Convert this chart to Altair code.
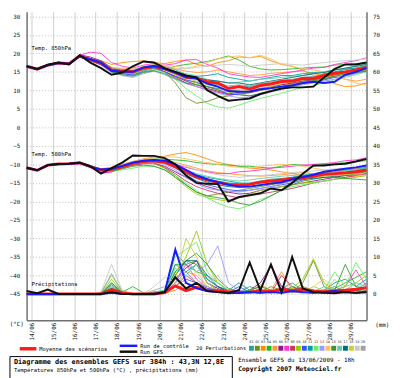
import altair as alt
import pandas as pd

# time axis: hours after 13/06/2009 18h, every 12 h up to 384 h
HOURS = list(range(0, 385, 12))

MEMBERS = [f"{k:02d}" for k in range(1, 21)]
MEMBER_COLORS = ["#2aa198", "#6b8e23", "#ff8c00", "#22bb22", "#ff9933",
                 "#8b1a89", "#ff33cc", "#cc3366", "#99cc00", "#3355ff",
                 "#00a0a0", "#66ee66", "#9999ff", "#ffc060", "#339933",
                 "#66ccaa", "#007070", "#cccc33", "#c8c8c8", "#a0a0a0"]

# ---------------- 850 hPa temperature (°C) ----------------
M850 = [16.5,15.7,16.8,17.4,17.2,19.3,18.3,17.3,15.5,15.2,15.0,16.0,16.5,15.8,14.8,13.5,13.3,12.3,12.0,10.5,11.0,10.4,11.3,11.7,12.4,12.5,13.2,13.2,14.0,14.6,15.0,15.5,16.2]
C850 = [16.5,15.7,16.8,17.4,17.2,19.2,18.4,17.4,15.3,15.0,15.0,16.2,16.6,15.8,14.8,13.6,13.2,11.8,11.0,9.8,9.6,9.7,10.3,10.6,11.0,11.3,12.0,12.3,12.0,12.3,14.2,15.0,16.0]
G850 = [16.5,15.8,16.9,17.5,17.0,19.5,17.5,16.0,14.2,14.8,16.5,17.8,17.5,16.0,15.0,14.0,13.5,10.0,8.5,7.2,7.5,7.8,9.0,9.8,10.5,10.8,10.8,11.0,13.5,15.8,17.0,17.0,17.5]
P850 = [
    [16.5,15.8,16.9,17.3,17.1,19.2,18.6,17.8,16.2,15.6,15.4,16.3,16.8,16.5,15.6,14.2,13.0,12.0,11.5,10.8,11.2,11.0,11.8,12.0,12.5,12.8,13.5,13.6,14.5,15.0,15.6,16.0,16.8],
    [16.5,15.7,16.7,17.5,17.3,19.4,18.0,17.0,15.0,14.5,14.8,15.7,16.2,15.0,12.0,8.0,6.5,7.0,8.0,8.5,9.2,9.5,10.2,10.8,11.5,12.0,12.6,13.0,13.2,14.0,14.8,15.2,15.8],
    [16.5,15.6,16.8,17.6,17.4,19.0,18.5,18.0,17.0,17.5,17.8,18.0,17.5,17.2,17.8,18.2,17.0,16.5,17.5,18.0,19.0,18.8,19.2,18.0,17.0,16.5,15.5,14.0,13.0,11.8,11.0,11.2,12.0],
    [16.5,15.7,16.8,17.3,17.0,19.4,18.2,17.2,15.2,14.6,14.0,15.0,15.5,15.8,16.5,17.0,17.3,17.8,18.5,19.3,18.2,16.5,15.8,15.5,15.6,15.8,16.0,16.2,16.3,16.8,17.0,17.2,17.5],
    [16.5,15.8,16.8,17.4,17.2,19.1,18.4,17.5,16.0,15.8,15.5,16.4,17.0,16.5,15.8,15.2,14.8,15.0,15.5,15.0,14.5,14.0,14.2,14.6,14.8,15.0,15.2,14.5,14.0,13.5,13.0,12.5,13.0],
    [16.5,15.7,16.8,17.4,17.3,19.6,19.0,18.0,16.0,15.0,14.6,15.5,16.0,15.0,13.8,12.5,11.5,10.5,9.8,9.0,9.5,9.8,10.5,11.0,11.5,12.0,12.5,12.8,13.5,14.2,14.8,15.4,16.0],
    [16.5,15.8,16.9,17.5,17.3,19.5,20.3,20.0,17.5,16.5,16.0,16.8,17.2,16.8,17.2,18.2,18.3,17.0,16.0,14.5,14.0,13.6,13.5,14.0,14.5,15.0,15.5,16.0,16.2,17.0,17.5,18.0,18.8],
    [16.5,15.6,16.7,17.3,17.1,19.0,18.0,17.0,15.2,14.8,14.5,15.5,16.0,15.0,13.5,12.0,11.0,10.2,9.5,8.8,9.0,9.3,10.0,10.5,11.0,11.8,12.3,12.5,13.2,13.8,14.5,15.0,15.5],
    [16.5,15.7,16.8,17.5,17.2,19.2,18.2,17.3,15.4,15.0,14.8,15.8,16.3,15.5,14.2,12.8,12.0,11.0,10.0,9.5,9.0,8.5,9.2,10.0,11.0,11.5,12.2,12.5,13.3,14.0,14.5,15.0,15.5],
    [16.5,15.7,16.8,17.4,17.2,19.3,18.2,17.0,15.0,14.5,14.2,15.2,16.0,15.0,13.8,12.8,12.2,11.0,10.2,9.0,8.8,8.5,9.0,9.8,10.5,11.2,11.8,12.2,12.8,13.5,14.0,14.6,15.2],
    [16.5,15.8,16.8,17.4,17.2,19.3,18.5,17.6,15.8,15.5,15.2,16.2,16.8,16.0,15.0,14.0,13.8,14.0,14.5,13.5,13.0,12.5,13.0,13.5,14.0,14.0,14.5,14.8,15.0,15.5,15.8,16.0,16.5],
    [16.5,15.7,16.8,17.4,17.1,19.2,18.3,17.2,15.3,14.8,14.5,15.4,15.8,14.8,13.0,10.5,8.5,6.5,5.5,5.2,6.0,7.0,7.8,8.5,9.2,10.0,10.8,11.3,12.0,12.8,13.5,14.2,15.0],
    [16.5,15.7,16.8,17.4,17.2,19.0,18.0,16.8,14.8,14.0,13.5,14.5,15.2,14.2,13.0,11.8,11.0,10.0,9.2,8.5,8.0,8.2,8.8,9.5,10.2,11.0,11.5,12.0,12.5,13.0,13.8,14.5,15.2],
    [16.5,15.7,16.8,17.4,17.2,19.3,18.3,17.6,16.2,16.0,15.8,16.5,17.0,16.8,16.5,16.0,16.5,17.5,18.5,19.0,19.3,18.8,19.5,18.5,17.0,16.5,15.8,15.5,15.0,14.2,13.0,12.0,11.5],
    [16.5,15.7,16.8,17.4,17.2,19.3,18.1,17.0,15.0,14.2,13.8,14.8,15.3,14.5,13.2,12.0,11.5,11.0,10.5,10.0,9.8,9.5,10.0,10.5,11.0,11.5,12.0,12.6,13.0,13.8,14.4,14.8,15.2],
    [16.5,15.7,16.8,17.4,17.2,19.3,18.4,17.6,15.8,15.4,15.3,16.2,16.7,16.0,15.2,14.5,14.0,13.0,12.5,12.0,12.2,12.5,13.0,13.2,13.5,13.8,14.0,14.5,15.0,15.5,16.0,16.5,17.2],
    [16.5,15.7,16.8,17.4,17.2,19.4,18.5,17.8,16.0,15.3,14.8,15.8,16.3,15.8,15.0,14.0,13.5,12.8,12.5,12.0,12.0,11.5,12.0,12.5,13.0,13.5,14.0,14.5,14.8,15.5,16.0,16.5,17.0],
    [16.5,15.7,16.8,17.4,17.2,19.3,18.2,17.2,15.4,15.0,14.8,15.8,16.4,15.6,14.5,13.2,12.5,11.5,11.0,10.0,10.2,10.0,10.5,11.0,11.8,12.2,12.8,13.0,13.8,14.4,15.0,15.4,16.0],
    [16.5,15.7,16.8,17.4,17.2,19.2,18.4,17.5,15.9,15.6,15.5,16.6,17.0,16.6,16.0,15.8,16.2,16.5,16.8,17.0,16.8,16.5,16.8,17.0,17.2,17.0,16.8,17.2,17.5,17.8,18.0,18.2,18.5],
    [16.5,15.7,16.8,17.4,17.2,19.3,18.3,17.4,15.6,15.1,14.9,15.9,16.4,15.6,14.6,13.6,13.2,12.4,12.0,11.2,11.5,11.2,11.8,12.3,12.8,13.0,13.5,13.8,14.2,14.8,15.2,15.8,16.3],
]

# ---------------- 500 hPa temperature (°C) ----------------
M500 = [-10.9,-11.6,-10.2,-9.9,-9.8,-9.6,-10.6,-11.5,-11.3,-10.6,-9.8,-9.2,-9.0,-9.4,-10.6,-12.0,-13.4,-14.2,-14.9,-15.4,-15.6,-15.4,-14.8,-14.5,-14.2,-13.9,-13.6,-13.2,-12.6,-12.5,-12.3,-12.0,-11.5]
C500 = [-10.9,-11.6,-10.2,-9.9,-9.8,-9.6,-10.6,-11.4,-11.2,-10.4,-9.5,-9.0,-8.8,-9.0,-10.0,-11.5,-13.0,-14.0,-14.8,-15.5,-16.0,-16.0,-15.6,-15.2,-14.8,-14.0,-13.4,-12.8,-12.0,-11.6,-11.2,-10.8,-10.3]
G500 = [-10.9,-11.6,-10.2,-9.9,-9.8,-9.5,-10.5,-12.5,-11.0,-9.5,-7.6,-7.7,-7.7,-8.3,-10.0,-13.0,-15.0,-15.2,-15.3,-20.0,-18.8,-18.3,-17.8,-16.5,-17.0,-15.0,-12.5,-10.3,-10.3,-10.0,-9.8,-9.2,-8.5]
P500 = [
    [-10.9,-11.5,-10.1,-9.8,-9.8,-9.7,-10.8,-11.8,-11.6,-10.8,-10.0,-9.4,-9.2,-9.5,-10.5,-12.0,-13.2,-14.0,-14.5,-15.0,-15.2,-15.0,-14.5,-14.0,-13.8,-13.5,-13.0,-12.6,-12.0,-11.8,-11.5,-11.2,-10.8],
    [-10.9,-11.6,-10.2,-9.9,-9.7,-9.5,-10.4,-11.2,-11.0,-10.2,-9.4,-9.0,-9.5,-11.0,-13.0,-15.5,-17.5,-18.5,-18.0,-17.5,-17.0,-16.5,-16.0,-15.5,-15.0,-14.5,-14.0,-13.5,-13.0,-12.8,-12.5,-12.2,-12.0],
    [-10.9,-11.6,-10.3,-10.0,-9.9,-9.6,-10.5,-11.2,-10.8,-10.0,-9.2,-8.5,-8.0,-7.8,-7.2,-6.8,-7.5,-8.5,-9.5,-10.0,-10.5,-11.0,-11.2,-11.5,-12.0,-12.5,-13.0,-12.8,-12.5,-12.0,-11.5,-11.0,-10.5],
    [-10.9,-11.6,-10.2,-9.9,-9.8,-9.6,-10.6,-11.5,-11.2,-10.4,-9.5,-8.8,-8.5,-8.6,-8.8,-9.0,-9.5,-9.8,-10.0,-10.2,-10.5,-10.5,-10.8,-11.0,-10.5,-10.0,-10.2,-10.5,-10.0,-9.8,-9.5,-9.2,-9.0],
    [-10.9,-11.6,-10.2,-9.9,-9.8,-9.6,-10.6,-11.4,-11.1,-10.3,-9.6,-9.0,-8.8,-9.0,-9.5,-10.2,-11.0,-11.8,-12.2,-12.5,-12.8,-13.0,-13.2,-13.0,-12.8,-12.5,-12.2,-12.5,-12.8,-13.2,-13.5,-13.2,-13.0],
    [-10.9,-11.6,-10.2,-9.9,-9.8,-9.6,-10.7,-12.2,-12.0,-11.0,-10.2,-9.8,-9.8,-10.5,-12.0,-13.5,-15.0,-16.0,-16.8,-17.5,-18.0,-17.8,-17.0,-16.5,-16.0,-15.5,-15.0,-14.5,-14.0,-13.5,-13.0,-12.8,-12.5],
    [-10.9,-11.6,-10.2,-9.9,-9.8,-9.6,-10.8,-12.5,-12.0,-10.8,-10.0,-9.5,-9.3,-9.5,-10.0,-10.8,-11.5,-12.0,-12.5,-12.5,-12.0,-11.8,-11.5,-11.0,-10.8,-10.5,-10.2,-10.0,-9.8,-9.5,-9.0,-8.8,-8.2],
    [-10.9,-11.6,-10.2,-9.9,-9.8,-9.6,-10.6,-11.6,-11.5,-10.8,-10.2,-9.8,-9.8,-10.8,-12.5,-14.5,-16.0,-17.0,-17.8,-18.5,-19.0,-18.5,-18.0,-17.5,-17.0,-16.5,-15.8,-15.0,-14.5,-14.0,-13.5,-13.0,-12.5],
    [-10.9,-11.6,-10.2,-9.9,-9.8,-9.6,-10.6,-11.5,-11.3,-10.6,-10.0,-9.6,-9.8,-11.0,-13.5,-16.0,-18.0,-19.0,-19.5,-20.0,-19.0,-18.0,-17.0,-16.5,-16.0,-15.5,-15.0,-14.8,-14.5,-14.0,-13.8,-13.5,-13.0],
    [-10.9,-11.6,-10.2,-9.9,-9.8,-9.6,-10.6,-11.5,-11.3,-10.5,-9.8,-9.2,-9.0,-9.6,-11.0,-12.8,-14.5,-15.5,-16.2,-16.8,-17.2,-17.0,-16.5,-16.0,-15.5,-15.0,-14.2,-13.5,-13.0,-12.5,-12.2,-12.0,-11.5],
    [-10.9,-11.6,-10.2,-9.9,-9.8,-9.6,-10.6,-11.3,-11.0,-10.3,-9.5,-9.0,-8.8,-9.2,-10.0,-11.5,-12.8,-13.5,-14.0,-14.5,-15.0,-15.2,-15.0,-14.5,-14.0,-13.5,-13.0,-12.5,-12.2,-12.0,-11.8,-11.5,-11.0],
    [-10.9,-11.6,-10.2,-9.9,-9.8,-9.6,-10.6,-11.5,-11.8,-11.5,-11.0,-10.5,-10.5,-11.5,-13.0,-15.0,-17.0,-19.0,-20.5,-21.5,-22.0,-21.0,-19.5,-18.5,-17.0,-16.0,-15.5,-15.0,-14.5,-14.0,-13.0,-12.0,-11.0],
    [-10.9,-11.6,-10.2,-9.9,-9.8,-9.6,-10.6,-11.6,-11.4,-10.6,-10.0,-9.5,-9.4,-10.0,-11.5,-13.5,-15.2,-16.5,-17.0,-17.2,-17.5,-17.0,-16.5,-16.0,-15.2,-14.5,-14.0,-13.5,-13.0,-12.8,-12.5,-12.2,-12.0],
    [-10.9,-11.6,-10.2,-9.9,-9.8,-9.6,-10.6,-11.3,-10.8,-10.0,-9.2,-8.6,-8.3,-8.0,-8.0,-8.5,-9.0,-9.5,-10.0,-10.5,-10.8,-11.0,-10.5,-10.2,-10.0,-10.2,-10.5,-11.0,-11.5,-12.0,-12.5,-12.8,-13.0],
    [-10.9,-11.6,-10.2,-9.9,-9.8,-9.6,-10.6,-11.7,-11.8,-11.2,-10.5,-10.2,-10.5,-11.5,-13.5,-15.5,-17.5,-18.5,-19.0,-19.5,-20.5,-21.0,-20.0,-18.5,-17.0,-15.5,-14.5,-14.0,-13.5,-13.5,-13.8,-14.0,-14.2],
    [-10.9,-11.6,-10.2,-9.9,-9.8,-9.6,-10.6,-11.4,-11.1,-10.4,-9.7,-9.2,-9.0,-9.3,-10.2,-11.5,-12.5,-13.2,-13.8,-14.2,-14.5,-14.2,-13.8,-13.5,-13.2,-13.0,-12.8,-12.5,-12.2,-12.0,-11.8,-11.5,-11.2],
    [-10.9,-11.6,-10.2,-9.9,-9.8,-9.6,-10.6,-11.5,-11.2,-10.5,-9.8,-9.3,-9.2,-9.6,-10.8,-12.5,-13.8,-14.8,-15.5,-16.0,-16.2,-16.0,-15.5,-15.0,-14.5,-14.2,-14.0,-13.8,-13.5,-13.2,-13.0,-12.5,-12.0],
    [-10.9,-11.6,-10.2,-9.9,-9.8,-9.6,-10.6,-11.5,-11.3,-10.6,-9.9,-9.4,-9.2,-9.5,-10.5,-12.0,-13.5,-14.5,-15.0,-15.5,-15.8,-15.5,-15.0,-14.8,-14.5,-14.2,-13.8,-13.5,-13.2,-13.0,-12.8,-12.5,-12.2],
    [-10.9,-11.6,-10.2,-9.9,-9.8,-9.6,-10.6,-11.4,-11.0,-10.2,-9.4,-8.8,-8.6,-8.8,-9.5,-10.5,-11.5,-12.2,-12.8,-13.2,-13.5,-13.2,-13.0,-12.8,-12.5,-12.2,-12.0,-11.8,-11.5,-11.2,-11.0,-10.8,-10.5],
    [-10.9,-11.6,-10.2,-9.9,-9.8,-9.6,-10.6,-11.5,-11.2,-10.5,-9.8,-9.2,-9.0,-9.3,-10.4,-11.8,-13.2,-14.0,-14.8,-15.2,-15.4,-15.2,-14.8,-14.4,-14.0,-13.8,-13.4,-13.0,-12.6,-12.4,-12.2,-11.8,-11.4],
]

# ---------------- precipitation (mm) ----------------
MPR = [0,0,0,0,0,0,0,0,1.2,0.3,0,0,0,0.4,2.2,0.9,1.8,0.9,0.9,0.6,0.4,0.5,0.9,0.6,1.3,0.9,1.3,0.8,0.6,0.8,1.0,1.3,1.7]
CPR = [0,0,0,0,0,0,0,0,0.3,0,0,0,0,0.5,12.0,3.0,1.5,0.8,0.5,0.2,0.3,0.5,0.3,0.5,0.3,0.8,0.5,0.3,0.5,0.8,0.5,0.3,0.5]
GPR = [0.8,0.2,1.2,0,0,0,0,0,0.5,0,0,0,0,0.5,4.5,1.5,3.0,0.8,0.5,0.3,1.0,8.5,1.0,8.0,0.5,10.0,1.5,0.5,0.3,0.2,0.5,0.3,0.5]
PPR = [
    [0,0,0,0,0,0,0,0.2,2.0,0.3,0,0,0.5,1.0,11.0,8.0,9.0,4.0,2.0,1.0,0.5,2.0,1.0,0.5,1.5,3.0,1.0,0.5,1.0,2.0,0.5,1.0,3.0],
    [0,0,0,0,0,0,0,0,1.5,0.2,0,0,0,0.5,6.0,9.0,8.0,3.0,1.0,0.5,0.3,1.0,0.5,2.0,1.0,0.5,3.0,9.0,2.0,0.5,1.0,0.5,1.0],
    [0,0,0,0,0,0,0,0,0.5,0,0,0,0,0.2,1.0,3.0,2.0,1.0,0.5,0.2,0.3,0.5,2.5,1.0,0.5,1.5,1.0,0.5,0.3,1.0,0.5,0.3,0.5],
    [0,0,0,0,0,0,0,0,3.0,0.5,2.0,0.3,0,0.5,8.0,8.0,6.0,5.0,3.0,1.0,0.5,0.8,1.0,0.5,1.0,0.8,2.0,1.0,0.5,1.5,3.0,4.5,6.0],
    [0,0,0,0,0,0,0,0,1.0,0,0,0,0,0.3,3.0,6.0,5.0,2.0,1.0,0.5,1.0,0.3,0.5,1.0,6.0,1.0,0.5,0.3,0.5,0.2,0.5,1.0,0.5],
    [0,0,0,0,0,0,0,0,0.8,0,0,0,0,0.5,4.0,7.0,9.0,3.0,1.5,0.5,0.3,1.0,3.0,7.5,2.0,1.0,0.5,0.3,1.0,0.5,0.3,0.5,0.8],
    [0,0,0,0,0,0,0,0,1.5,0.2,0,0,0.3,0.5,3.0,8.0,4.0,1.5,1.0,0.5,0.3,0.5,1.0,8.0,2.0,0.5,0.5,1.0,0.5,1.0,2.0,6.5,2.0],
    [0,0,0,0,0,0,0,0,1.0,0,0,0,0,0.3,2.0,5.0,3.0,1.0,2.0,0.5,0.3,0.5,0.8,0.3,5.0,2.0,0.5,0.3,0.5,0.3,0.5,0.3,0.5],
    [0,0,0,0,0,0,0,0,4.0,0.5,0,0,0,0.5,5.0,10.0,17.0,8.0,3.0,1.0,0.5,0.5,1.0,0.5,1.0,1.5,4.0,9.5,3.0,1.0,2.0,3.0,5.0],
    [0,0,0,0,0,0,0,0,0.5,0,0,0,0,0.3,2.0,4.0,3.0,1.5,1.0,0.5,2.0,0.5,0.3,0.5,0.3,0.5,1.0,0.5,0.3,0.5,1.0,0.5,0.3],
    [0,0,0,0,0,0,0,0,3.0,0.3,0,0,0.5,0.8,8.0,6.0,8.0,4.0,2.0,1.0,3.0,1.0,0.5,1.0,0.5,2.0,1.0,0.5,1.0,3.0,4.0,2.0,4.0],
    [0,0,0,0,0,0,0,0.3,5.0,1.0,0,0,0.5,1.0,10.0,12.0,14.0,6.0,3.0,1.0,0.5,1.0,0.5,1.0,0.5,1.0,0.5,2.0,1.0,6.0,2.0,8.5,4.0],
    [0,0,0,0,0,0,0,0,1.0,0,0,0,0,0.5,3.0,9.0,6.0,8.0,13.0,3.0,1.0,0.5,0.3,0.5,1.0,0.5,0.3,0.5,1.0,0.3,0.5,0.3,0.5],
    [0,0,0,0,0,0,0,0,0.5,0,0,0,0,0.2,2.0,4.0,6.0,2.0,1.0,0.5,0.3,0.5,0.3,0.5,1.0,0.5,0.3,2.0,4.0,1.0,0.5,0.3,0.5],
    [0,0,0,0,0,0,0,0.2,2.5,0.3,0,0,0.3,0.5,6.0,9.0,11.0,8.0,4.0,1.5,0.5,1.0,2.0,1.0,0.5,0.8,0.5,1.0,0.5,1.0,8.0,2.0,1.5],
    [0,0,0,0,0,0,0,0,2.0,0.2,0,0,0,0.5,7.0,5.0,8.0,3.0,1.0,0.5,0.3,0.5,1.0,0.5,0.3,0.5,1.0,0.5,2.0,0.5,1.0,3.0,2.0],
    [0,0,0,0,0,0,0,0,1.5,0.2,0,0,0,0.3,5.0,9.0,9.0,5.0,2.0,0.5,0.3,0.5,0.3,1.0,0.5,0.5,0.8,0.5,0.3,0.5,0.5,1.0,0.5],
    [0,0,0,0,0,0,0,0,1.0,0,0,0,0,0.5,4.0,15.0,10.0,3.0,1.0,0.5,0.3,0.5,0.3,0.5,0.5,0.3,0.5,0.8,0.5,4.0,1.0,0.5,0.3],
    [0,0,0,0,0,0,0,0.5,8.0,1.0,0,0,2.0,4.5,3.0,5.0,4.0,2.0,5.0,1.0,0.5,0.3,0.5,0.3,0.5,0.5,0.3,0.5,0.3,0.5,0.3,0.5,0.3],
    [0,0,0,0,0,0,0,0.2,5.5,0.5,0,0,1.0,2.0,4.0,6.0,3.0,2.0,1.0,0.5,0.3,0.5,0.3,0.5,1.0,0.5,0.3,0.5,0.3,0.5,0.3,0.5,0.3],
]

DAY_TICKS = [6 + 24 * k for k in range(16)]        # 14/06 00h ... 29/06 00h
TEMP_TICKS = list(range(-45, 31, 5))
PREC_TICKS = list(range(0, 76, 5))

# ---------- length check ----------
_all = {"M850": M850, "C850": C850, "G850": G850, "M500": M500, "C500": C500,
        "G500": G500, "MPR": MPR, "CPR": CPR, "GPR": GPR}
for i in range(20):
    _all[f"P850_{i+1}"] = P850[i]
    _all[f"P500_{i+1}"] = P500[i]
    _all[f"PPR_{i+1}"] = PPR[i]
_bad = [k for k, v in _all.items() if len(v) != len(HOURS)]
if _bad:
    raise ValueError("wrong length: " + ", ".join(f"{k}={len(_all[k])}" for k in _bad))

# ---------- tables ----------
pert_t, main_t, pert_p, main_p = [], [], [], []
for lev, P, M, C, G in (("850", P850, M850, C850, G850), ("500", P500, M500, C500, G500)):
    for m, arr in zip(MEMBERS, P):
        for h, v in zip(HOURS, arr):
            pert_t.append({"h": h, "v": v, "member": m, "key": m + lev})
    for s, arr in (("mean", M), ("ctl", C), ("gfs", G)):
        for h, v in zip(HOURS, arr):
            main_t.append({"h": h, "v": v, "s": s, "lev": lev})
for m, arr in zip(MEMBERS, PPR):
    for h, v in zip(HOURS, arr):
        pert_p.append({"h": h, "p": v, "member": m})
for s, arr in (("mean", MPR), ("ctl", CPR), ("gfs", GPR)):
    for h, v in zip(HOURS, arr):
        main_p.append({"h": h, "p": v, "s": s})
pert_t, main_t = pd.DataFrame(pert_t), pd.DataFrame(main_t)
pert_p, main_p = pd.DataFrame(pert_p), pd.DataFrame(main_p)

MONO = "DejaVu Sans Mono"
W, H = 347, 315
T_DOM = [-52.12, 31.22]
P_DOM = [T_DOM[0] + 45, T_DOM[1] + 45]

x_axis = alt.Axis(values=DAY_TICKS, labelExpr="format(14 + (datum.value - 6) / 24, '02d') + '/06'",
                  labelAngle=270, labelFont=MONO, labelFontSize=6, labelColor="#222",
                  labelPadding=2, ticks=False, grid=True, gridColor="#d6d6d6", gridWidth=1.2,
                  domainColor="#707070", domainWidth=1.5, title=None, labelOverlap=False)
X = alt.X("h:Q", scale=alt.Scale(domain=[0, 384], nice=False, zero=False), axis=x_axis)

t_axis = alt.Axis(values=TEMP_TICKS, orient="left", ticks=False, labelPadding=7, labelFont=MONO,
                  labelFontSize=6, labelColor="#222", grid=True, gridColor="#bdbdbd",
                  gridDash=[1, 2], gridWidth=1, domainColor="#707070", domainWidth=1.5,
                  title=None, labelOverlap=False)
YT = alt.Y("v:Q", scale=alt.Scale(domain=T_DOM, nice=False, zero=False), axis=t_axis)

p_axis = alt.Axis(values=PREC_TICKS, orient="right", ticks=False, labelPadding=6, labelFont=MONO,
                  labelFontSize=6, labelColor="#222", grid=False, domainColor="#707070",
                  domainWidth=1.5, title=None, labelOverlap=False)
YP = alt.Y("p:Q", scale=alt.Scale(domain=P_DOM, nice=False, zero=False), axis=p_axis)

COL = alt.Color("member:N", scale=alt.Scale(domain=MEMBERS, range=MEMBER_COLORS), legend=None)
MAIN_STYLE = {"mean": ("#ff1a1a", 3.0), "ctl": ("#1a1aff", 2.0), "gfs": ("#111111", 2.0)}

t_layers = [alt.Chart(pert_t).mark_line(strokeWidth=0.9).encode(x=X, y=YT, color=COL, detail="key:N")]
p_layers = [alt.Chart(pert_p).mark_line(strokeWidth=0.9).encode(x=X, y=YP, color=COL, detail="member:N")]
for s in ("mean", "ctl", "gfs"):
    c, w = MAIN_STYLE[s]
    t_layers.append(alt.Chart(main_t[main_t.s == s]).mark_line(color=c, strokeWidth=w)
                    .encode(x=X, y=YT, detail="lev:N"))
    p_layers.append(alt.Chart(main_p[main_p.s == s]).mark_line(color=c, strokeWidth=w)
                    .encode(x=X, y=YP))

one = pd.DataFrame({"d": [0]})


def txt(s, x, y, size, bold=False, align="left", color="#000"):
    return alt.Chart(one).mark_text(text=s, align=align, baseline="middle", font=MONO,
                                    fontSize=size, fontWeight="bold" if bold else "normal",
                                    color=color).encode(x=alt.value(x), y=alt.value(y))


def rule(x1, x2, y, color, w):
    return alt.Chart(one).mark_rule(color=color, strokeWidth=w).encode(
        x=alt.value(x1), x2=alt.value(x2), y=alt.value(y))


decos = [
    txt("Temp. 850hPa", 5, 37, 5.6),
    txt("Temp. 500hPa", 5, 145, 5.6),
    txt("Précipitations", 5, 278, 5.6),
    txt("(°C)", -10, 319, 6, align="center"),
    txt("(mm)", 363, 320, 6, align="center"),
    rule(-7, 10, 344, "#ff1a1a", 3.5),
    txt("Moyenne des scénarios", 13, 344, 5.5),
    rule(95, 113, 341, "#1a1aff", 2.5),
    txt("Run de contrôle", 116, 341, 5.5),
    rule(95, 113, 347, "#111111", 2.5),
    txt("Run GFS", 116, 347, 5.5),
    txt("20 Perturbations", 173, 343, 5.3),
]
for k, (m, c) in enumerate(zip(MEMBERS, MEMBER_COLORS)):
    x0 = 227 + 6 * k
    decos.append(alt.Chart(one).mark_rect(color=c).encode(
        x=alt.value(x0), x2=alt.value(x0 + 5), y=alt.value(341), y2=alt.value(346)))
    decos.append(txt(m, x0 + 2.5, 337.5, 3.6, align="center", color="#333"))
decos += [
    alt.Chart(one).mark_rect(fill="white", stroke="#000", strokeWidth=1).encode(
        x=alt.value(-17), x2=alt.value(210), y=alt.value(352), y2=alt.value(378)),
    txt("Diagramme des ensembles GEFS sur 384h : 43,3N 12,8E", -13, 357.5, 7, bold=True),
    txt("Températures 850hPa et 500hPa (°C) , précipitations (mm)", -13, 365.5, 5.6),
    txt("Ensemble GEFS du 13/06/2009 - 18h", 216, 356, 6),
    txt("Copyright 2007 Meteociel.fr", 216, 365, 6.5, bold=True),
]

chart = alt.layer(
    alt.layer(*t_layers), alt.layer(*p_layers), *decos
).resolve_scale(y="independent").properties(
    width=W, height=H, background="white",
    autosize=alt.AutoSizeParams(type="none"),
    padding={"left": 19, "top": 0, "right": 26, "bottom": 55},
).configure_view(stroke=None)

chart.save("out.html", embed_options={"renderer": "svg", "actions": False})
